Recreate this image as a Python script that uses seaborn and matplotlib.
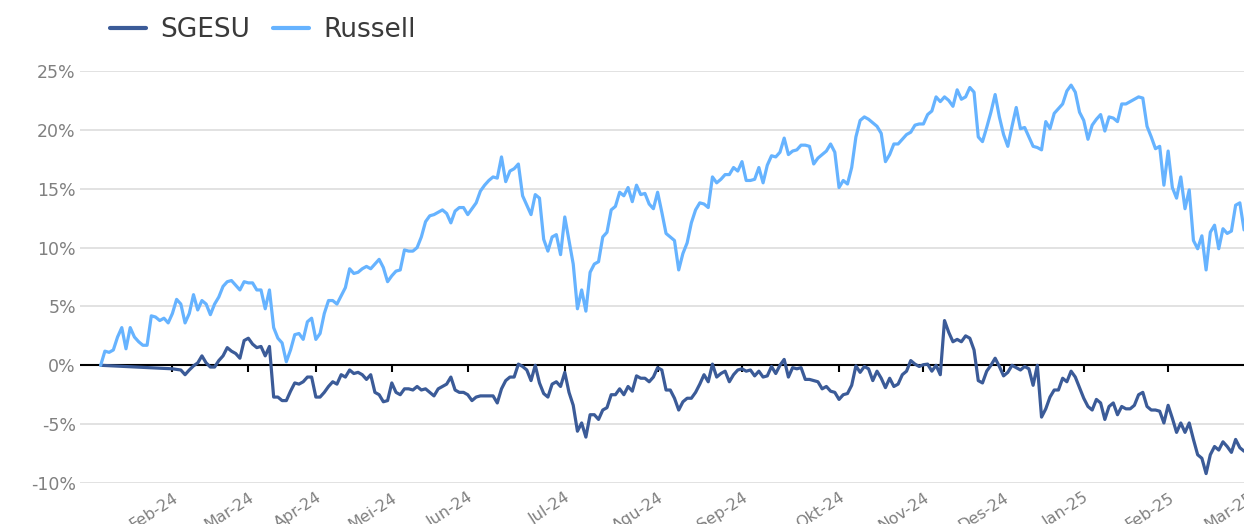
import numpy as np
import pandas as pd
import matplotlib
matplotlib.use('Agg')
import matplotlib.pyplot as plt
import seaborn as sns

# trading days per month (Jan-24 .. Feb-25), used as a category axis
month_labels = ['Jan-24', 'Feb-24', 'Mar-24', 'Apr-24', 'Mei-24', 'Jun-24', 'Jul-24',
                'Agu-24', 'Sep-24', 'Okt-24', 'Nov-24', 'Des-24', 'Jan-25', 'Feb-25', 'Mar-25']
days_per_month = [17, 18, 16, 18, 18, 23, 22, 20, 23, 20, 19, 19, 20, 19]

# cumulative return, %
russell = [
    # Jan-24
    0.0, 1.2, 1.1, 1.3, 2.4, 3.2, 1.4, 3.2, 2.4, 2.0, 1.7, 1.7, 4.2, 4.1, 3.8, 4.0, 3.6,
    # Feb-24
    4.4, 5.6, 5.2, 3.6, 4.4, 6.0, 4.7, 5.5, 5.2, 4.3, 5.2, 5.8, 6.7, 7.1, 7.2, 6.8, 6.4, 7.1,
    # Mar-24
    7.0, 7.0, 6.4, 6.4, 4.8, 6.4, 3.2, 2.3, 1.9, 0.3, 1.3, 2.6, 2.7, 2.2, 3.7, 4.0,
    # Apr-24
    2.2, 2.7, 4.4, 5.5, 5.5, 5.2, 5.9, 6.6, 8.2, 7.8, 7.9, 8.2, 8.4, 8.2, 8.6, 9.0, 8.3, 7.1,
    # Mei-24
    7.6, 8.0, 8.1, 9.8, 9.7, 9.7, 10.0, 10.9, 12.2, 12.7, 12.8, 13.0, 13.2, 12.9, 12.1, 13.1, 13.4, 13.4,
    # Jun-24
    12.8, 13.3, 13.8, 14.8, 15.3, 15.7, 16.0, 15.9, 17.7, 15.6, 16.5, 16.7, 17.1, 14.4, 13.6, 12.8,
    14.5, 14.2, 10.7, 9.7, 10.9, 11.1, 9.4,
    # Jul-24
    12.6, 10.6, 8.6, 4.8, 6.4, 4.6, 7.9, 8.6, 8.8, 10.9, 11.3, 13.2, 13.5, 14.7, 14.4, 15.1, 13.9,
    15.3, 14.5, 14.6, 13.7, 13.3,
    # Agu-24
    14.7, 13.0, 11.2, 10.9, 10.6, 8.1, 9.5, 10.4, 12.1, 13.2, 13.8, 13.7, 13.4, 16.0, 15.5, 15.8,
    16.2, 16.2, 16.8, 16.5,
    # Sep-24
    17.3, 15.7, 15.7, 15.8, 16.8, 15.5, 17.0, 17.8, 17.7, 18.1, 19.3, 17.9, 18.2, 18.3, 18.7, 18.7,
    18.6, 17.1, 17.6, 17.9, 18.2, 18.8, 18.1,
    # Okt-24
    15.1, 15.7, 15.4, 16.8, 19.4, 20.8, 21.1, 20.9, 20.6, 20.3, 19.7, 17.3, 17.9, 18.8, 18.8, 19.2,
    19.6, 19.8, 20.4, 20.5,
    # Nov-24
    20.5, 21.3, 21.6, 22.8, 22.4, 22.8, 22.5, 22.0, 23.4, 22.6, 22.8, 23.6, 23.2, 19.4, 19.0, 20.2,
    21.5, 23.0, 21.1,
    # Des-24
    19.6, 18.6, 20.3, 21.9, 20.1, 20.2, 19.4, 18.6, 18.5, 18.3, 20.7, 20.1, 21.4, 21.8, 22.2, 23.3,
    23.8, 23.2, 21.5,
    # Jan-25
    20.8, 19.2, 20.4, 20.9, 21.3, 19.9, 21.1, 21.0, 20.7, 22.2, 22.2, 22.4, 22.6, 22.8, 22.7, 20.3,
    19.4, 18.4, 18.6, 15.3,
    # Feb-25
    18.2, 15.1, 14.2, 16.0, 13.3, 14.9, 10.6, 9.9, 11.0, 8.1, 11.3, 11.9, 9.9, 11.6, 11.2, 11.4,
    13.6, 13.8, 11.5,
]

sgesu = [
    # Jan-24 (no data after first day)
    0.0] + [np.nan] * 16 + [
    # Feb-24
    -0.3, -0.35, -0.4, -0.8, -0.4, -0.05, 0.2, 0.8, 0.2, -0.15, -0.15, 0.4, 0.8, 1.5, 1.2, 1.0, 0.6, 2.1,
    # Mar-24
    2.3, 1.8, 1.5, 1.6, 0.8, 1.6, -2.7, -2.7, -3.0, -3.0, -2.2, -1.5, -1.6, -1.4, -1.0, -1.0,
    # Apr-24
    -2.7, -2.7, -2.3, -1.8, -1.4, -1.6, -0.8, -1.0, -0.4, -0.7, -0.6, -0.8, -1.2, -0.8, -2.3, -2.5,
    -3.1, -3.0,
    # Mei-24
    -1.5, -2.3, -2.5, -2.0, -2.0, -2.1, -1.8, -2.1, -2.0, -2.3, -2.6, -2.0, -1.8, -1.6, -1.0, -2.1,
    -2.3, -2.3,
    # Jun-24
    -2.5, -3.0, -2.7, -2.6, -2.6, -2.6, -2.6, -3.2, -2.0, -1.3, -1.0, -1.0, 0.1, -0.1, -0.4, -1.3,
    0.0, -1.5, -2.4, -2.7, -1.6, -1.4, -1.8,
    # Jul-24
    -0.6, -2.3, -3.4, -5.6, -4.9, -6.1, -4.2, -4.2, -4.6, -3.8, -3.6, -2.5, -2.5, -2.0, -2.5, -1.8,
    -2.2, -0.9, -1.1, -1.1, -1.4, -1.0,
    # Agu-24
    -0.2, -0.4, -2.1, -2.1, -2.8, -3.8, -3.1, -2.8, -2.8, -2.3, -1.6, -0.8, -1.4, 0.1, -1.0, -0.7,
    -0.5, -1.4, -0.8, -0.4,
    # Sep-24
    -0.3, -0.5, -0.4, -0.9, -0.5, -1.0, -0.9, -0.1, -0.7, 0.0, 0.5, -1.0, -0.2, -0.3, -0.2, -1.2,
    -1.2, -1.3, -1.4, -2.0, -1.8, -2.2, -2.3,
    # Okt-24
    -2.9, -2.5, -2.4, -1.7, -0.05, -0.6, -0.1, -0.3, -1.3, -0.5, -1.1, -1.9, -1.1, -1.8, -1.6, -0.8,
    -0.5, 0.4, 0.1, -0.1,
    # Nov-24
    0.05, 0.1, -0.5, 0.0, -0.8, 3.8, 2.8, 2.0, 2.2, 2.0, 2.5, 2.3, 1.3, -1.3, -1.5, -0.5, 0.0, 0.6, -0.1,
    # Des-24
    -0.9, -0.6, 0.0, -0.2, -0.4, -0.1, -0.3, -1.7, 0.0, -4.4, -3.7, -2.7, -2.1, -2.1, -1.1, -1.4,
    -0.5, -1.0, -1.9,
    # Jan-25
    -2.8, -3.5, -3.8, -2.9, -3.2, -4.6, -3.5, -3.2, -4.2, -3.5, -3.7, -3.7, -3.4, -2.5, -2.3, -3.5,
    -3.8, -3.8, -3.9, -4.9,
    # Feb-25
    -3.4, -4.5, -5.7, -4.9, -5.7, -4.9, -6.3, -7.6, -7.9, -9.2, -7.6, -6.9, -7.2, -6.5, -6.9, -7.4,
    -6.3, -7.0, -7.3,
]

df = pd.DataFrame({'day': np.arange(len(russell)), 'SGESU': sgesu, 'Russell': russell})
long_df = df.melt(id_vars='day', var_name='series', value_name='ret').dropna()

sns.set_style('white')
plt.rcParams['font.family'] = ['DejaVu Sans']

W, H = 1244, 524
fig = plt.figure(figsize=(W / 100, H / 100), dpi=100)
ax = fig.add_axes([80 / W, 41 / H, 1170.4 / W, 412 / H])

# black zero line under the series
ax.axhline(0, color='black', linewidth=1.5, zorder=1.5)

sns.lineplot(data=long_df, x='day', y='ret', hue='series', hue_order=['SGESU', 'Russell'],
             palette={'SGESU': '#3B5B98', 'Russell': '#66B3FF'}, linewidth=2.3,
             estimator=None, ax=ax)

ax.set_xlim(-4.9, 272.5)
ax.set_ylim(-10, 25)
for s in ax.spines.values():
    s.set_visible(False)

yt = list(range(-10, 30, 5))
ax.set_yticks(yt)
ax.set_yticklabels([f'{v}%' for v in yt], color='#808080', fontsize=12.5)
ax.yaxis.grid(True, color='#e2e2e2', linewidth=1.4)
ax.set_axisbelow(True)

starts = np.cumsum(days_per_month)
ax.set_xticks(starts)
ax.set_xticklabels(month_labels[1:], rotation=33, ha='right', rotation_mode='anchor',
                   color='#808080', fontsize=11.5)
ax.tick_params(axis='both', length=0)
ax.tick_params(axis='x', pad=5)
ax.tick_params(axis='y', pad=3)
ax.set_xlabel('')
ax.set_ylabel('')

# month ticks hanging from the zero line
zero = ax.secondary_xaxis(10 / 35)
zero.set_xticks(starts)
zero.tick_params(direction='out', length=5, width=1.5, color='black', labelbottom=False, labeltop=False)
for s in zero.spines.values():
    s.set_visible(False)

sns.move_legend(ax, 'center left', bbox_to_anchor=(110 / W, 1 - 30 / H),
                bbox_transform=fig.transFigure, ncol=2, frameon=False, title=None,
                handlelength=1.37, handletextpad=0.55, columnspacing=0.85,
                borderpad=0, borderaxespad=0,
                prop={'family': 'DejaVu Sans', 'size': 19})
leg = ax.get_legend()
for t in leg.get_texts():
    t.set_color('#3a3a3a')
for h in leg.legend_handles:
    h.set_linewidth(3)

fig.savefig('out.png', dpi=100)
